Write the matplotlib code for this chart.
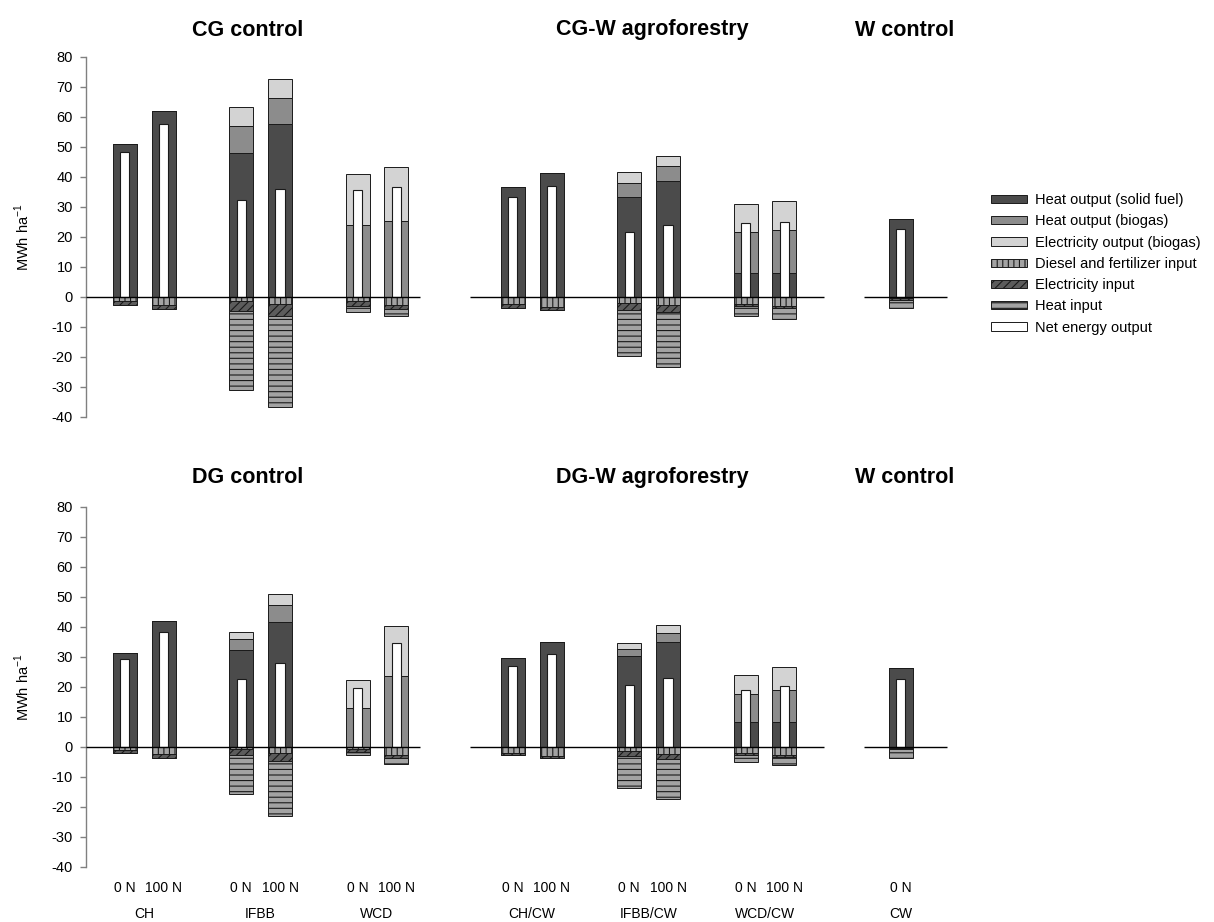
import numpy as np
import matplotlib
matplotlib.use('Agg')
import matplotlib.pyplot as plt
from matplotlib.patches import Patch

plt.rcParams['font.family'] = ['Liberation Sans', 'DejaVu Sans']
plt.rcParams['hatch.linewidth'] = 0.8
plt.rcParams['axes.unicode_minus'] = False

# bar order: CH 0N, CH 100N, IFBB 0N, IFBB 100N, WCD 0N, WCD 100N,
#            CH/CW 0N, CH/CW 100N, IFBB/CW 0N, IFBB/CW 100N, WCD/CW 0N, WCD/CW 100N, CW 0N
groups = ['CH', 'IFBB', 'WCD', 'CH/CW', 'IFBB/CW', 'WCD/CW', 'CW']
n_levels = [['0 N', '100 N']] * 6 + [['0 N']]
titles_top = ['CG control', 'CG-W agroforestry', 'W control']
titles_bot = ['DG control', 'DG-W agroforestry', 'W control']

# top row (CG)
cg_heat_solid  = [50.9, 62.0, 47.9, 57.7, 0.0, 0.0, 36.8, 41.2, 33.2, 38.8, 8.0, 8.0, 26.1]
cg_heat_biogas = [0.0, 0.0, 9.0, 8.6, 23.9, 25.2, 0.0, 0.0, 4.8, 4.8, 13.6, 14.3, 0.0]
cg_elec_biogas = [0.0, 0.0, 6.5, 6.4, 17.1, 18.1, 0.0, 0.0, 3.6, 3.5, 9.3, 9.8, 0.0]
cg_diesel      = [1.3, 2.6, 1.4, 2.4, 1.3, 2.6, 2.4, 3.4, 1.9, 2.8, 2.2, 3.1, 0.4]
cg_elec_in     = [1.4, 1.5, 3.2, 4.0, 1.8, 1.4, 1.2, 1.0, 2.4, 2.2, 0.9, 0.5, 0.5]
cg_heat_in     = [0.0, 0.0, 26.3, 30.4, 2.0, 2.5, 0.0, 0.0, 15.5, 18.3, 3.3, 3.7, 2.8]
cg_net         = [48.2, 57.8, 32.4, 36.0, 35.8, 36.8, 33.4, 36.9, 21.8, 23.9, 24.7, 25.1, 22.7]

# bottom row (DG)
dg_heat_solid  = [31.4, 42.0, 32.2, 41.7, 0.0, 0.0, 29.7, 34.9, 30.1, 34.8, 8.2, 8.2, 26.1]
dg_heat_biogas = [0.0, 0.0, 3.6, 5.4, 13.0, 23.6, 0.0, 0.0, 2.4, 3.2, 9.3, 10.8, 0.0]
dg_elec_biogas = [0.0, 0.0, 2.6, 3.9, 9.4, 16.7, 0.0, 0.0, 2.0, 2.7, 6.4, 7.7, 0.0]
dg_diesel      = [1.0, 2.4, 0.8, 2.1, 0.6, 2.6, 2.0, 3.1, 1.4, 2.4, 2.0, 2.8, 0.4]
dg_elec_in     = [1.0, 1.2, 1.9, 2.8, 1.0, 1.2, 0.9, 0.8, 1.7, 1.8, 0.8, 0.7, 0.5]
dg_heat_in     = [0.0, 0.0, 13.1, 18.1, 1.2, 2.0, 0.0, 0.0, 10.8, 13.3, 2.3, 2.7, 2.8]
dg_net         = [29.3, 38.3, 22.6, 28.0, 19.6, 34.5, 26.9, 30.9, 20.6, 23.0, 19.0, 20.3, 22.7]

# bar slots along x
group_start = [0, 3, 6, 10, 13, 16, 20]
xpos = []
for g, lv in zip(group_start, n_levels):
    for i in range(len(lv)):
        xpos.append(g + i)
xpos = np.array(xpos, dtype=float)

styles = {
    'heat_solid':  dict(facecolor='#4b4b4b', hatch=None),
    'heat_biogas': dict(facecolor='#8c8c8c', hatch=None),
    'elec_biogas': dict(facecolor='#d3d3d3', hatch=None),
    'diesel':      dict(facecolor='#a3a3a3', hatch='|||'),
    'elec_in':     dict(facecolor='#5c5c5c', hatch='////'),
    'heat_in':     dict(facecolor='#a3a3a3', hatch='---'),
    'net':         dict(facecolor='white', hatch=None),
}
leg_labels = ['Heat output (solid fuel)', 'Heat output (biogas)', 'Electricity output (biogas)',
              'Diesel and fertilizer input', 'Electricity input', 'Heat input', 'Net energy output']

W, H = 1214, 922
fig = plt.figure(figsize=(W / 100, H / 100), dpi=100)

def draw_panel(ax, outs, ins, net, titles, title_y, bottom_labels):
    bw = 0.62
    base = np.zeros(len(xpos))
    for key, vals in outs:
        vals = np.array(vals)
        ax.bar(xpos, vals, bw, bottom=base, edgecolor='#1a1a1a', linewidth=0.7,
               zorder=2, **styles[key])
        base = base + vals
    base = np.zeros(len(xpos))
    for key, vals in ins:
        vals = np.array(vals)
        ax.bar(xpos, -vals, bw, bottom=base, edgecolor='#1a1a1a', linewidth=0.7,
               zorder=2, **styles[key])
        base = base - vals
    ax.bar(xpos, net, 0.24, color='white', edgecolor='#1a1a1a', linewidth=0.8, zorder=3)

    for x0, x1 in [(-1, 7.6), (8.9, 18.03), (19.04, 21.2)]:
        ax.plot([x0, x1], [0, 0], color='black', lw=1.0, zorder=4, solid_capstyle='butt')

    ax.set_xlim(-1, 21.5)
    ax.set_ylim(-40, 80)
    ax.set_yticks(np.arange(-40, 81, 10))
    for s in ['top', 'right', 'bottom']:
        ax.spines[s].set_visible(False)
    ax.spines['left'].set_color('#808080')
    ax.spines['left'].set_linewidth(1.0)
    ax.set_xticks([])
    ax.tick_params(axis='y', direction='out', length=4.5, width=1.0, color='#808080',
                   labelsize=10.5, pad=5)
    ax.set_ylabel(r'MWh ha$^{\mathregular{-1}}$', fontsize=10.5, labelpad=14)

    for tx, t in zip([248, 652, 905], titles):
        fig.text(tx / W, 1 - title_y / H, t, ha='center', va='center',
                 fontsize=15.5, fontweight='bold')

    if bottom_labels:
        k = 0
        for g, lv, name in zip(group_start, n_levels, groups):
            for i, l in enumerate(lv):
                ax.text(xpos[k], -0.058, l, transform=ax.get_xaxis_transform(),
                        ha='center', va='center', fontsize=10)
                k += 1
            ax.text(g + (len(lv) - 1) / 2, -0.13, name, transform=ax.get_xaxis_transform(),
                    ha='center', va='center', fontsize=10)

ax_top = fig.add_axes([86 / W, 1 - 417 / H, 873 / W, 360 / H])
ax_bot = fig.add_axes([86 / W, 1 - 866.7 / H, 873 / W, 360 / H])

draw_panel(ax_top,
           [('heat_solid', cg_heat_solid), ('heat_biogas', cg_heat_biogas), ('elec_biogas', cg_elec_biogas)],
           [('diesel', cg_diesel), ('elec_in', cg_elec_in), ('heat_in', cg_heat_in)],
           cg_net, titles_top, 30, False)
draw_panel(ax_bot,
           [('heat_solid', dg_heat_solid), ('heat_biogas', dg_heat_biogas), ('elec_biogas', dg_elec_biogas)],
           [('diesel', dg_diesel), ('elec_in', dg_elec_in), ('heat_in', dg_heat_in)],
           dg_net, titles_bot, 477, True)

handles = [Patch(edgecolor='#1a1a1a', linewidth=0.7, **styles[k]) for k in
           ['heat_solid', 'heat_biogas', 'elec_biogas', 'diesel', 'elec_in', 'heat_in', 'net']]
fig.legend(handles, leg_labels, loc='upper left', bbox_to_anchor=(991 / W, 1 - 193 / H),
           frameon=False, fontsize=10.5, borderpad=0, borderaxespad=0,
           handlelength=2.45, handleheight=0.5, handletextpad=0.6, labelspacing=0.5)

fig.savefig('out.png', dpi=100)
